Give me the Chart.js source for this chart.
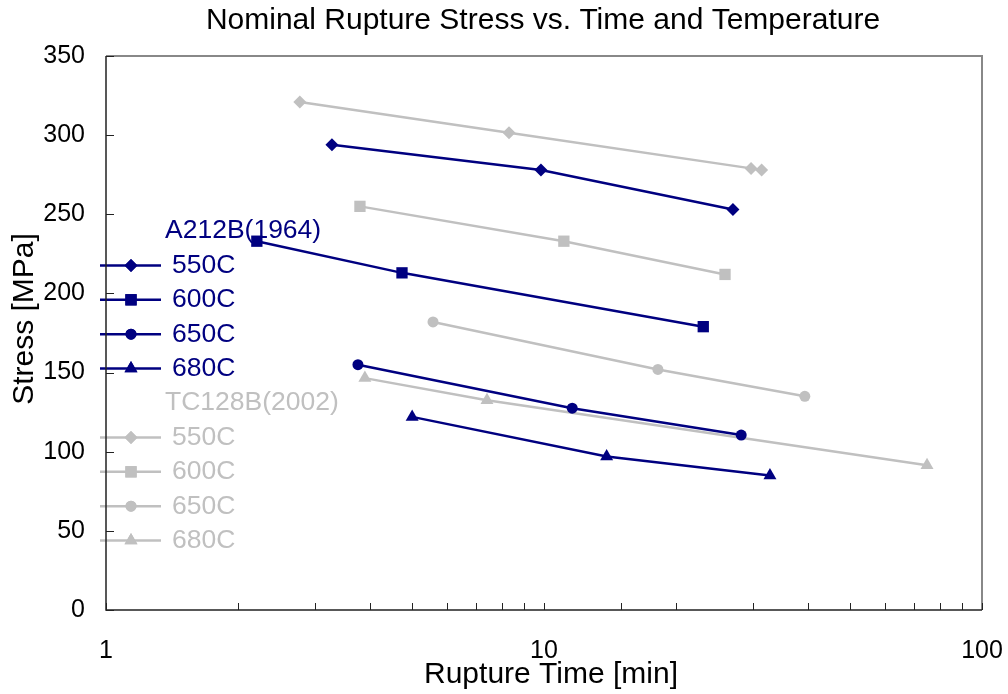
<!DOCTYPE html>
<html>
<head>
<meta charset="utf-8">
<script src="https://cdn.jsdelivr.net/npm/chart.js@4/dist/chart.umd.min.js"></script>
<style>
  html, body { margin: 0; padding: 0; background: #fff; }
  #wrap { width: 1008px; height: 694px; }
</style>
</head>
<body>
<div id="wrap"><canvas id="chartRupture"></canvas></div>
<script>
/* Rupture stress vs time */
const temps = ['550C', '600C', '650C', '680C'];
const groups = ['A212B(1964)', 'TC128B(2002)'];

// rupture time [min] / stress [MPa], one row per temperature
const a212bTime = [[3.28, 9.84, 27.0], [2.21, 4.74, 23.1], [3.76, 11.6, 28.2], [5.0, 13.9, 32.8]];
const a212bStress = [[294, 278, 253], [233, 213, 179], [155, 127.5, 110.5], [122, 97, 85]];
const tc128bTime = [[2.77, 8.32, 29.7, 31.4], [3.80, 11.1, 25.9], [5.58, 18.2, 39.4], [3.90, 7.41, 74.9]];
const tc128bStress = [[321, 301.5, 279, 278], [255, 233, 212], [182, 152, 135], [146.5, 132.5, 91.5]];

const xTickLabels = [1, 10, 100];
const yMax = 350;
const yStep = 50;

const groupColors = ['#000080', '#C0C0C0'];
const pointStyles = ['rectRot', 'rect', 'circle', 'triangle'];
const pointSizes = [6.5, 8, 5.5, 7.5];
const FONT = "'Liberation Sans', Arial, sans-serif";

let datasets = [];
[[a212bTime, a212bStress], [tc128bTime, tc128bStress]].forEach(([times, stress], g) => {
  for (let i = 0; i < temps.length; i++) {
    datasets.push({
      label: temps[i],
      group: groups[g],
      data: times[i].map((t, k) => ({ x: t, y: stress[i][k] })),
      borderColor: groupColors[g],
      backgroundColor: groupColors[g],
      borderWidth: 2.5,
      pointStyle: pointStyles[i],
      pointRadius: pointSizes[i],
      pointHoverRadius: pointSizes[i],
      pointBorderWidth: 0,
      showLine: true,
      tension: 0,
    });
  }
});

/* legend inside the plot, with group headers */
const insideLegend = {
  id: 'insideLegend',
  beforeDatasetsDraw(chart) {
    const ctx = chart.ctx;
    let y = 231;
    const rowH = 34.4;
    let lastGroup = null;
    ctx.save();
    ctx.font = '26.5px ' + FONT;
    ctx.textBaseline = 'middle';
    ctx.textAlign = 'left';
    chart.data.datasets.forEach((ds) => {
      if (ds.group !== lastGroup) {
        ctx.fillStyle = ds.borderColor;
        ctx.fillText(ds.group, 165, y);
        y += rowH;
        lastGroup = ds.group;
      }
      ctx.strokeStyle = ds.borderColor;
      ctx.lineWidth = ds.borderWidth;
      ctx.beginPath();
      ctx.moveTo(100, y);
      ctx.lineTo(161, y);
      ctx.stroke();
      ctx.fillStyle = ds.backgroundColor;
      Chart.helpers.drawPoint(ctx, {
        pointStyle: ds.pointStyle, radius: ds.pointRadius, rotation: 0, borderWidth: 0
      }, 131, y);
      ctx.fill();
      ctx.fillStyle = ds.borderColor;
      ctx.fillText(ds.label, 172, y);
      y += rowH;
    });
    ctx.restore();
  }
};

/* frame, inward ticks, title and axis titles */
const frame = {
  id: 'frame',
  afterDraw(chart) {
    const ctx = chart.ctx;
    const a = chart.chartArea;
    const xs = chart.scales.x, ys = chart.scales.y;
    ctx.save();
    ctx.strokeStyle = '#888888';
    ctx.lineWidth = 2;
    ctx.beginPath();
    ctx.moveTo(a.left, a.top);
    ctx.lineTo(a.right, a.top);
    ctx.lineTo(a.right, a.bottom);
    ctx.stroke();
    ctx.strokeStyle = '#222222';
    ctx.lineWidth = 1.5;
    ctx.beginPath();
    ctx.moveTo(a.left, a.top);
    ctx.lineTo(a.left, a.bottom);
    ctx.lineTo(a.right, a.bottom);
    ctx.stroke();
    ctx.lineWidth = 1;
    ctx.beginPath();
    ys.ticks.forEach((t) => {
      const py = Math.round(ys.getPixelForValue(t.value)) + 0.5;
      ctx.moveTo(a.left, py);
      ctx.lineTo(a.left + 8, py);
    });
    xs.ticks.forEach((t) => {
      const px = Math.round(xs.getPixelForValue(t.value)) + 0.5;
      ctx.moveTo(px, a.bottom);
      ctx.lineTo(px, a.bottom - 7);
    });
    ctx.stroke();

    ctx.fillStyle = '#000';
    ctx.textAlign = 'center';
    ctx.textBaseline = 'middle';
    ctx.font = '30px ' + FONT;
    ctx.fillText('Nominal Rupture Stress vs. Time and Temperature', 543, 21);
    ctx.fillText('Rupture Time [min]', 551, 675);
    ctx.translate(25, 319);
    ctx.rotate(-Math.PI / 2);
    ctx.fillText('Stress [MPa]', 0, 0);
    ctx.restore();
  }
};

const ctx = document.getElementById('chartRupture').getContext('2d');
const myChart = new Chart(ctx, {
  type: 'scatter',
  data: { datasets: datasets },
  plugins: [insideLegend, frame],
  options: {
    responsive: true,
    maintainAspectRatio: false,
    animation: false,
    layout: { padding: { left: 0, right: 26, top: 56, bottom: 0 } },
    plugins: {
      legend: { display: false },
      tooltip: { enabled: false },
      title: { display: false },
    },
    scales: {
      x: {
        type: 'logarithmic',
        min: 1,
        max: 100,
        grid: { display: false, drawTicks: false },
        border: { display: false },
        ticks: {
          autoSkip: false,
          maxRotation: 0,
          padding: 26,
          color: '#000',
          font: { family: FONT, size: 25, lineHeight: 1.2 },
          callback: (v) => (xTickLabels.includes(v) ? String(v) : ''),
        },
        afterFit: (s) => { s.height = 84; s.paddingLeft = 0; s.paddingRight = 0; },
      },
      y: {
        min: 0,
        max: yMax,
        grid: { display: false, drawTicks: false },
        border: { display: false },
        ticks: {
          stepSize: yStep,
          padding: 21,
          color: '#000',
          font: { family: FONT, size: 25, lineHeight: 1.2 },
        },
        afterFit: (s) => { s.width = 106; s.paddingTop = 0; s.paddingBottom = 0; },
      },
    },
  },
});
</script>
</body>
</html>
